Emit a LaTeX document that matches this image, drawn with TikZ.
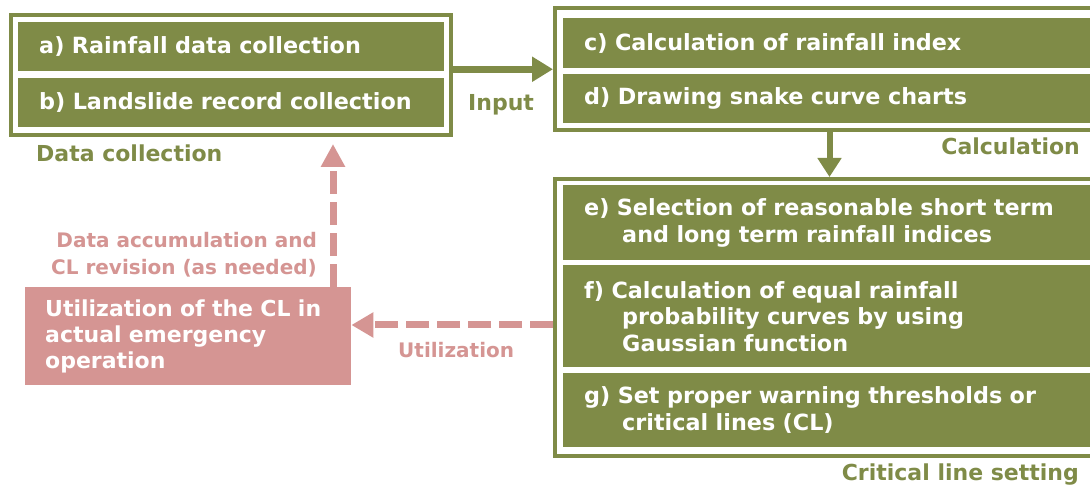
\documentclass[tikz,border=0pt]{standalone}
\usepackage{fontspec}
\setmainfont{DejaVu Sans}
\usetikzlibrary{arrows.meta}
\definecolor{G}{RGB}{127,139,71}
\definecolor{P}{RGB}{213,149,147}
\begin{document}
\begin{tikzpicture}[x=1pt,y=-1pt,
  frame/.style={draw=G, line width=4pt, inner sep=0pt},
  gbox/.style={fill=G, text=white, anchor=north west, inner xsep=21pt, inner ysep=0pt,
    align=left, font=\bfseries\fontsize{22.3pt}{26.5pt}\selectfont},
  pbox/.style={fill=P, text=white, anchor=north west, inner xsep=20pt, inner ysep=0pt,
    align=left, font=\bfseries\fontsize{22pt}{26pt}\selectfont},
  lab/.style={text=G, inner sep=0pt, font=\bfseries\fontsize{22pt}{26pt}\selectfont},
  plab/.style={text=P, inner sep=0pt, font=\bfseries\fontsize{20pt}{24pt}\selectfont},
  garrow/.style={draw=G},
  pdash/.style={draw=P, line width=7pt, dash pattern=on 23pt off 8pt}]
\clip (0,0) rectangle (1090,486);
\fill[white] (0,0) rectangle (1090,486);
% frames
\node[frame, minimum width=440pt, minimum height=120pt] (frame1) at (231,75) {};
\node[frame, minimum width=549pt, minimum height=121.5pt] (frame2) at (829.5,69.25) {};
\node[frame, minimum width=549pt, minimum height=276.5pt] (frame3) at (829.5,317.25) {};
% inner boxes
\node[gbox, text width=384pt, minimum height=49pt] (a) at (18,22) {a) Rainfall data collection};
\node[gbox, text width=384pt, minimum height=49pt] (b) at (18,78) {b) Landslide record collection};
\node[gbox, text width=495pt, minimum height=50pt] (c) at (563,18) {c) Calculation of rainfall index};
\node[gbox, text width=495pt, minimum height=49pt] (d) at (563,74) {d) Drawing snake curve charts};
\node[gbox, text width=495pt, minimum height=75pt] (e) at (563,185) {e) Selection of reasonable short term\\\hspace*{38pt}and long term rainfall indices};
\node[gbox, text width=495pt, minimum height=102pt] (f) at (563,265) {f) Calculation of equal rainfall\\\hspace*{38pt}probability curves by using\\\hspace*{38pt}Gaussian function};
\node[gbox, text width=495pt, minimum height=74pt] (g) at (563,373) {g) Set proper warning thresholds or\\\hspace*{38pt}critical lines (CL)};
\node[pbox, text width=286pt, minimum height=98pt] (use) at (25,287) {Utilization of the CL in\\actual emergency\\operation};
% labels
\node[lab, anchor=base west] (lin) at (468,111) {Input};
\node[lab, anchor=base west] (ldc) at (36,162) {Data collection};
\node[lab, anchor=base east] (lcalc) at (1080,155) {Calculation};
\node[lab, anchor=base east] (lcl) at (1079,480) {Critical line setting};
\node[plab, anchor=base east] (lacc1) at (317,248) {Data accumulation and};
\node[plab, anchor=base east] (lacc2) at (317,275) {CL revision (as needed)};
\node[plab, anchor=base west] (lut) at (398,357) {Utilization};
% connectors
\coordinate (xv) at (333,0);
\coordinate (yh) at (0,325);
\draw[garrow, line width=7pt, -{Triangle[length=21pt,width=24pt]}] (frame1.east |- frame2.west) -- (frame2.west);
\draw[garrow, line width=6pt, -{Triangle[length=19pt,width=23pt]}] (frame2.south) -- (frame3.north);
\draw[pdash, shorten >=7pt, -{Triangle[length=23pt,width=23pt]}] (use.north -| xv) -- (frame1.south -| xv);
\draw[pdash, -{Triangle[length=22pt,width=24pt]}] (frame3.west |- yh) -- (use.east |- yh);
\end{tikzpicture}
\end{document}
